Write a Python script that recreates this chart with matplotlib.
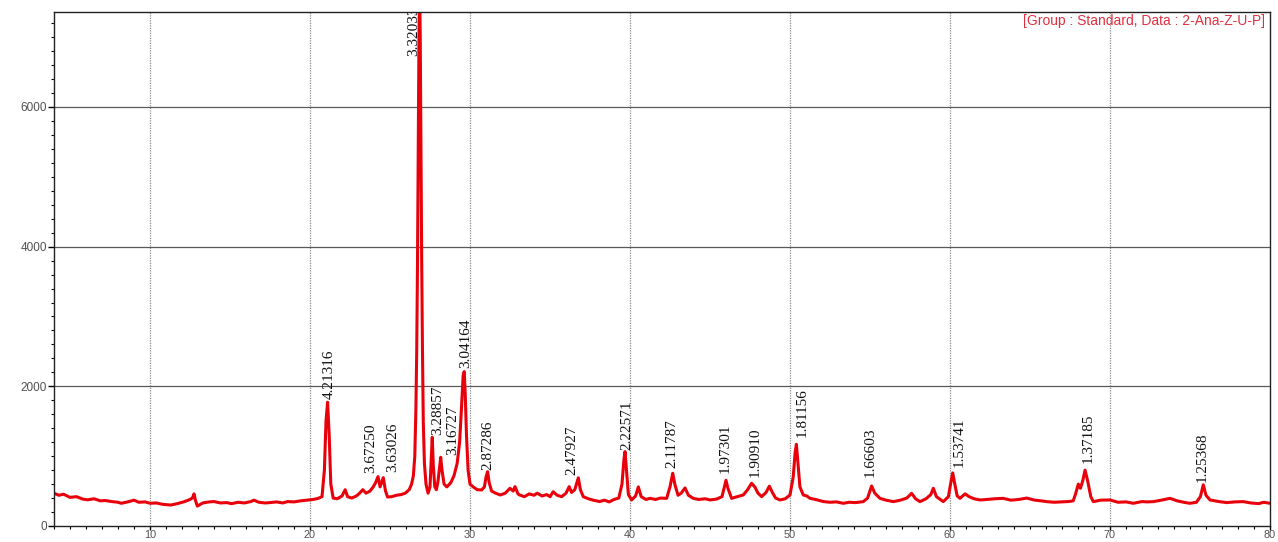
import matplotlib
matplotlib.use('Agg')
import matplotlib.pyplot as plt
from matplotlib.ticker import MultipleLocator

# 2-theta (deg) and intensity (counts)
two_theta = [
    4.0, 4.3, 4.6, 5.0, 5.4, 5.8, 6.1, 6.5, 6.9, 7.2, 7.6, 8.0, 8.2, 8.6, 9.0, 9.3, 9.7,
    10.0, 10.4, 10.8, 11.3, 11.7, 12.1, 12.4, 12.65, 12.75, 12.85, 12.96, 13.3, 13.7,
    14.0, 14.4, 14.8, 15.1, 15.5, 15.9, 16.3, 16.5, 16.8, 17.2, 17.5, 17.9, 18.3, 18.6,
    19.0, 19.4, 19.8, 20.2, 20.5, 20.75, 20.9, 21.0, 21.1, 21.2, 21.3, 21.45, 21.7,
    22.0, 22.2, 22.35, 22.6, 22.9, 23.1, 23.3, 23.5, 23.75, 23.95, 24.1, 24.25, 24.38,
    24.58, 24.72, 24.85, 25.1, 25.4, 25.7, 25.95, 26.2, 26.35, 26.46, 26.55, 26.62,
    26.67, 26.72, 26.77, 26.81, 26.85, 26.89, 26.93, 26.98, 27.03, 27.08, 27.15, 27.25,
    27.38, 27.5, 27.57, 27.64, 27.71, 27.8, 27.9, 28.0, 28.1, 28.17, 28.25, 28.38, 28.55,
    28.8, 29.0, 29.2, 29.35, 29.47, 29.57, 29.64, 29.7, 29.78, 29.88, 30.0, 30.2, 30.45,
    30.73, 30.9, 31.0, 31.1, 31.2, 31.35, 31.6, 31.9, 32.2, 32.5, 32.7, 32.81, 33.0,
    33.1, 33.4, 33.7, 34.0, 34.2, 34.5, 34.8, 35.0, 35.2, 35.45, 35.73, 36.0, 36.2,
    36.35, 36.55, 36.77, 36.9, 37.08, 37.4, 37.7, 38.1, 38.4, 38.7, 39.0, 39.3, 39.5,
    39.62, 39.69, 39.78, 39.9, 40.1, 40.35, 40.52, 40.7, 41.0, 41.25, 41.6, 41.9, 42.29,
    42.5, 42.67, 42.8, 43.0, 43.2, 43.44, 43.65, 43.96, 44.3, 44.7, 45.0, 45.4, 45.75,
    45.9, 46.0, 46.12, 46.35, 46.7, 47.08, 47.35, 47.6, 47.8, 48.0, 48.23, 48.5, 48.71,
    48.9, 49.1, 49.375, 49.7, 50.0, 50.2, 50.32, 50.4, 50.5, 50.62, 50.83, 51.05, 51.25,
    51.6, 52.08, 52.5, 52.9, 53.33, 53.7, 54.1, 54.58, 54.85, 55.1, 55.3, 55.625, 56.0,
    56.46, 56.9, 57.3, 57.6, 57.85, 58.125, 58.5, 58.8, 58.96, 59.15, 59.58, 59.9, 60.05,
    60.17, 60.3, 60.45, 60.625, 60.94, 61.2, 61.5, 61.875, 62.3, 62.8, 63.33, 63.8, 64.3,
    64.79, 65.3, 65.7, 66.04, 66.5, 67.0, 67.4, 67.7, 67.85, 68.02, 68.15, 68.3, 68.44,
    68.6, 68.8, 68.96, 69.4, 70.0, 70.5, 71.0, 71.46, 72.0, 72.3, 72.71, 73.2, 73.75,
    74.2, 74.6, 75.0, 75.4, 75.65, 75.83, 76.0, 76.25, 76.8, 77.29, 77.8, 78.33, 78.8,
    79.3, 79.6, 80.0,
]
intensity = [
    470, 440, 455, 410, 420, 385, 375, 390, 360, 365, 350, 340, 325, 345, 370, 340, 345,
    325, 330, 310, 300, 320, 345, 370, 400, 460, 360, 285, 330, 345,
    350, 330, 335, 320, 340, 330, 350, 370, 340, 330, 335, 345, 330, 350,
    345, 360, 370, 380, 395, 420, 800, 1500, 1773, 1300, 600, 400, 390,
    430, 520, 420, 400, 430, 470, 520, 470, 500, 560, 620, 707, 560,
    692, 500, 415, 420, 440, 450, 470, 520, 600, 720, 1000, 1700,
    2500, 3800, 5600, 7000, 7800, 7000, 5600, 3800, 2500, 1500, 900, 600,
    470, 560, 900, 1271, 850, 560, 520, 640, 850, 984, 800, 600, 560,
    620, 720, 900, 1200, 1700, 2150, 2211, 1900, 1300, 800, 600, 560, 520,
    516, 560, 700, 778, 620, 500, 470, 444, 470, 540, 500, 564, 460,
    444, 420, 460, 440, 470, 430, 450, 420, 490, 440, 420, 470, 564,
    480, 520, 690, 520, 420, 390, 370, 350, 370, 345, 380, 400, 600,
    950, 1065, 800, 450, 373, 430, 560, 420, 380, 396, 380, 400, 396,
    560, 755, 600, 440, 470, 545, 440, 396, 380, 390, 373, 385, 420,
    560, 655, 540, 396, 420, 444, 520, 612, 560, 470, 420, 480, 570,
    480, 400, 373, 390, 444, 700, 1050, 1170, 900, 560, 444, 430, 396,
    380, 350, 340, 345, 325, 340, 335, 349, 400, 573, 470, 396, 370,
    349, 370, 400, 468, 390, 349, 390, 450, 540, 420, 349, 420, 620,
    760, 600, 430, 396, 460, 420, 390, 373, 380, 390, 396, 370, 380,
    400, 370, 360, 349, 340, 345, 350, 360, 460, 600, 540, 650, 800,
    650, 420, 349, 370, 373, 340, 345, 325, 350, 345, 349, 370, 396,
    360, 340, 325, 340, 420, 590, 440, 373, 350, 335, 345, 349, 330,
    320, 340, 325,
]

# Peak d-spacing labels and where their text sits (2-theta, counts)
peak_labels = ['4.21316', '3.67250', '3.63026', '3.32033', '3.28857', '3.16727',
               '3.04164', '2.87286', '2.47927', '2.22571', '2.11787', '1.97301',
               '1.90910', '1.81156', '1.66603', '1.53741', '1.37185', '1.25368']
label_x = [21.23, 23.79, 25.19, 26.46, 27.98, 28.92, 29.73, 31.14, 36.36, 39.83,
           42.60, 45.94, 47.81, 50.73, 55.04, 60.58, 68.64, 75.73]
label_y = [1816, 764, 778, 6725, 1304, 1017, 2260, 802, 731, 1089, 831, 760, 702,
           1280, 698, 841, 898, 635]

x_ticks = [10, 20, 30, 40, 50, 60, 70, 80]
y_ticks = [0, 2000, 4000, 6000]
info_text = '[Group : Standard, Data : 2-Ana-Z-U-P]'

W, H = 1278, 542
fig = plt.figure(figsize=(W / 100, H / 100), dpi=100)
ax = fig.add_axes([54 / W, 16 / H, (1270 - 54) / W, (526 - 12) / H])

for xv in x_ticks[:-1]:
    ax.axvline(xv, color='#8c8c8c', lw=0.9, ls=(0, (1, 1)), zorder=0)
for yv in y_ticks[1:]:
    ax.axhline(yv, color='#5a5a5a', lw=0.9, zorder=0)

ax.plot(two_theta, intensity, color='#e8000b', lw=2.2, zorder=2)

ax.set_xlim(4, 80)
ax.set_ylim(0, 7360)
ax.set_xticks(x_ticks)
ax.set_yticks(y_ticks)
ax.xaxis.set_minor_locator(MultipleLocator(1))
ax.yaxis.set_minor_locator(MultipleLocator(200))
ax.tick_params(which='major', direction='out', length=4, width=1, labelsize=8.5,
               labelcolor='#505050', pad=1)
ax.tick_params(axis='x', which='major', length=3, labelsize=7.8, pad=0)
ax.tick_params(which='minor', direction='out', length=2.5, width=0.8)
for lab in ax.get_xticklabels() + ax.get_yticklabels():
    lab.set_family('Liberation Sans')
for sp in ax.spines.values():
    sp.set_color('#222222')
    sp.set_linewidth(1.0)

for lab, xv, yv in zip(peak_labels, label_x, label_y):
    ax.text(xv, yv, lab, rotation=90, ha='center', va='bottom', fontsize=11,
            family='Liberation Serif', color='#111111', zorder=3, clip_on=True)

fig.text(1265 / W, 1 - 21 / H, info_text, ha='right', va='center', color='#e03040',
         fontsize=10, family='Liberation Sans')

fig.savefig('out.png', dpi=100)
